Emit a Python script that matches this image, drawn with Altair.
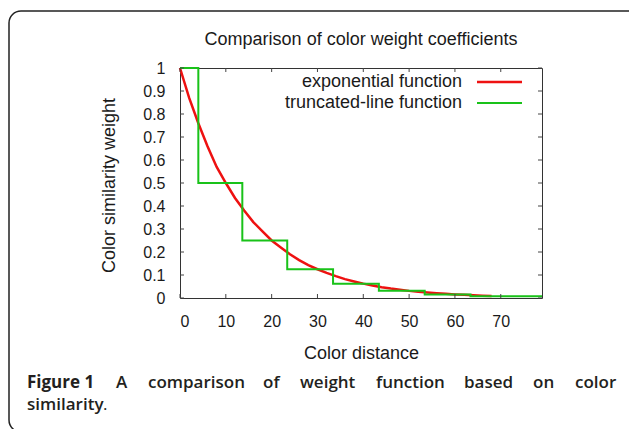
import altair as alt
import pandas as pd

# ---- data ----
exp_d = [0, 2, 4, 6, 8, 10, 12, 14, 16, 18, 20, 22, 24, 26, 28, 30, 32, 34,
         36, 38, 40, 42, 44, 46, 48, 50, 52, 54, 56, 58, 60, 62, 64, 66, 68]
exp_w = [1.0, 0.87, 0.76, 0.66, 0.57, 0.50, 0.435, 0.38, 0.33, 0.29, 0.25,
         0.22, 0.19, 0.165, 0.143, 0.125, 0.109, 0.095, 0.082, 0.072, 0.0625,
         0.054, 0.047, 0.041, 0.036, 0.031, 0.027, 0.024, 0.021, 0.018,
         0.0156, 0.0136, 0.0118, 0.0103, 0.009]

step_d = [0, 4, 13.6, 23.4, 33.4, 43.4, 53.4, 63.4, 79]
step_w = [1.0, 0.5, 0.25, 0.125, 0.0625, 0.03125, 0.0156, 0.0078, 0.0078]

x_ticks = [0, 10, 20, 30, 40, 50, 60, 70]
y_ticks = [0, 0.1, 0.2, 0.3, 0.4, 0.5, 0.6, 0.7, 0.8, 0.9, 1.0]

series_names = ["exponential function", "truncated-line function"]
series_colors = ["#ee1111", "#19c219"]

chart_title = "Comparison of color weight coefficients"
x_title = "Color distance"
y_title = "Color similarity weight"
caption_bold = "Figure 1"
caption_words = ["A", "comparison", "of", "weight", "function", "based", "on", "color"]
caption_line2 = "similarity"

# ---- layout ----
W, H = 362, 230
PL, PT = 180, 68
FONT = "Liberation Sans"
CFONT = "Open Sans"
TXT = "#1a1a1a"
CCOL = "#231f20"

exp_df = pd.DataFrame({"d": exp_d, "w": exp_w})
step_df = pd.DataFrame({"d": step_d, "w": step_w})
one = pd.DataFrame({"a": [0]})

xs = alt.Scale(domain=[0, 79], nice=False, zero=False)
ys = alt.Scale(domain=[0, 1], nice=False)

x_axis = alt.Axis(values=x_ticks, title=x_title, grid=False, domain=False,
                  tickSize=0, labelPadding=15, labelFont=FONT, labelFontSize=16,
                  labelColor=TXT, labelOverlap=False, titleFont=FONT,
                  titleFontSize=18, titleFontWeight="normal", titleColor=TXT,
                  titleY=60, titleBaseline="alphabetic")
y_axis = alt.Axis(values=y_ticks, format=".1~f", title=y_title, grid=False,
                  domain=False, tickSize=0, labelPadding=15, labelFont=FONT,
                  labelFontSize=16, labelColor=TXT, labelOverlap=False,
                  titleFont=FONT, titleFontSize=18, titleFontWeight="normal",
                  titleColor=TXT, titleX=-71, titleY=H / 2 + 2, titleAngle=270,
                  titleAlign="center", titleBaseline="middle")


def X(field):
    return alt.X(field, scale=xs, axis=x_axis)


def Y(field):
    return alt.Y(field, scale=ys, axis=y_axis)


exp_line = alt.Chart(exp_df).mark_line(color=series_colors[0], strokeWidth=2.5).encode(
    x=X("d:Q"), y=Y("w:Q"))
step_line = alt.Chart(step_df).mark_line(
    color=series_colors[1], strokeWidth=2, interpolate="step-after"
).encode(x=X("d:Q"), y=Y("w:Q"))

xt = pd.DataFrame({"t": x_ticks})
yt = pd.DataFrame({"t": y_ticks})
TK = 4
TC = "#444444"
tick_bottom = alt.Chart(xt).mark_rule(color=TC, strokeWidth=1).encode(
    x=X("t:Q"), y=alt.value(H), y2=alt.value(H - TK))
tick_top = alt.Chart(xt).mark_rule(color=TC, strokeWidth=1).encode(
    x=X("t:Q"), y=alt.value(0), y2=alt.value(TK))
tick_left = alt.Chart(yt).mark_rule(color=TC, strokeWidth=1).encode(
    y=Y("t:Q"), x=alt.value(0), x2=alt.value(TK))
tick_right = alt.Chart(yt).mark_rule(color=TC, strokeWidth=1).encode(
    y=Y("t:Q"), x=alt.value(W), x2=alt.value(W - TK))

layers = [exp_line, step_line, tick_bottom, tick_top, tick_left, tick_right]

# legend (gnuplot style: label then sample line)
leg_y = [14, 35]
for i, name in enumerate(series_names):
    layers.append(alt.Chart(pd.DataFrame({"t": [name]})).mark_text(
        align="right", baseline="middle", font=FONT, fontSize=18, color=TXT
    ).encode(text="t:N", x=alt.value(282), y=alt.value(leg_y[i])))
    layers.append(alt.Chart(one).mark_rule(
        color=series_colors[i], strokeWidth=2.5 if i == 0 else 2
    ).encode(x=alt.value(297), x2=alt.value(342), y=alt.value(leg_y[i])))

# title
layers.append(alt.Chart(pd.DataFrame({"t": [chart_title]})).mark_text(
    align="center", baseline="alphabetic", font=FONT, fontSize=18, color=TXT
).encode(text="t:N", x=alt.value(W / 2), y=alt.value(45 - PT)))

# caption (justified first line: words spread between the margins)
CAP_Y1, CAP_Y2 = 388, 410
CFS = 17
word_x = [116, 148, 263, 300, 376, 464, 533, 575]
layers.append(alt.Chart(pd.DataFrame({"t": [caption_bold]})).mark_text(
    align="left", baseline="alphabetic", font=CFONT, fontSize=CFS,
    fontWeight="bold", color=CCOL
).encode(text="t:N", x=alt.value(27 - PL), y=alt.value(CAP_Y1 - PT)))
for wx, wd in zip(word_x, caption_words):
    layers.append(alt.Chart(pd.DataFrame({"t": [wd]})).mark_text(
        align="left", baseline="alphabetic", font=CFONT, fontSize=CFS,
        fontWeight=600, color=CCOL
    ).encode(text="t:N", x=alt.value(wx - PL), y=alt.value(CAP_Y1 - PT)))
layers.append(alt.Chart(pd.DataFrame({"t": [caption_line2]})).mark_text(
    align="left", baseline="alphabetic", font=CFONT, fontSize=CFS,
    fontWeight=600, color=CCOL
).encode(text="t:N", x=alt.value(27 - PL), y=alt.value(CAP_Y2 - PT)))
layers.append(alt.Chart(pd.DataFrame({"t": ["."]})).mark_text(
    align="left", baseline="alphabetic", font=CFONT, fontSize=CFS,
    fontWeight="normal", color=CCOL
).encode(text="t:N", x=alt.value(103 - PL), y=alt.value(CAP_Y2 - PT)))

# rounded frame around the figure
layers.append(alt.Chart(one).mark_rect(
    fillOpacity=0, stroke="#222222", strokeWidth=1.5, cornerRadius=12
).encode(x=alt.value(9 - PL), x2=alt.value(645 - PL),
         y=alt.value(11 - PT), y2=alt.value(432 - PT)))

chart = alt.layer(*layers).properties(
    width=W, height=H, autosize="none",
    padding={"left": PL, "top": PT, "right": 629 - PL - W, "bottom": 429 - PT - H},
    background="white",
).configure_view(stroke="#333333", strokeWidth=1)

chart.save("out.html", embed_options={"renderer": "svg", "actions": False})
